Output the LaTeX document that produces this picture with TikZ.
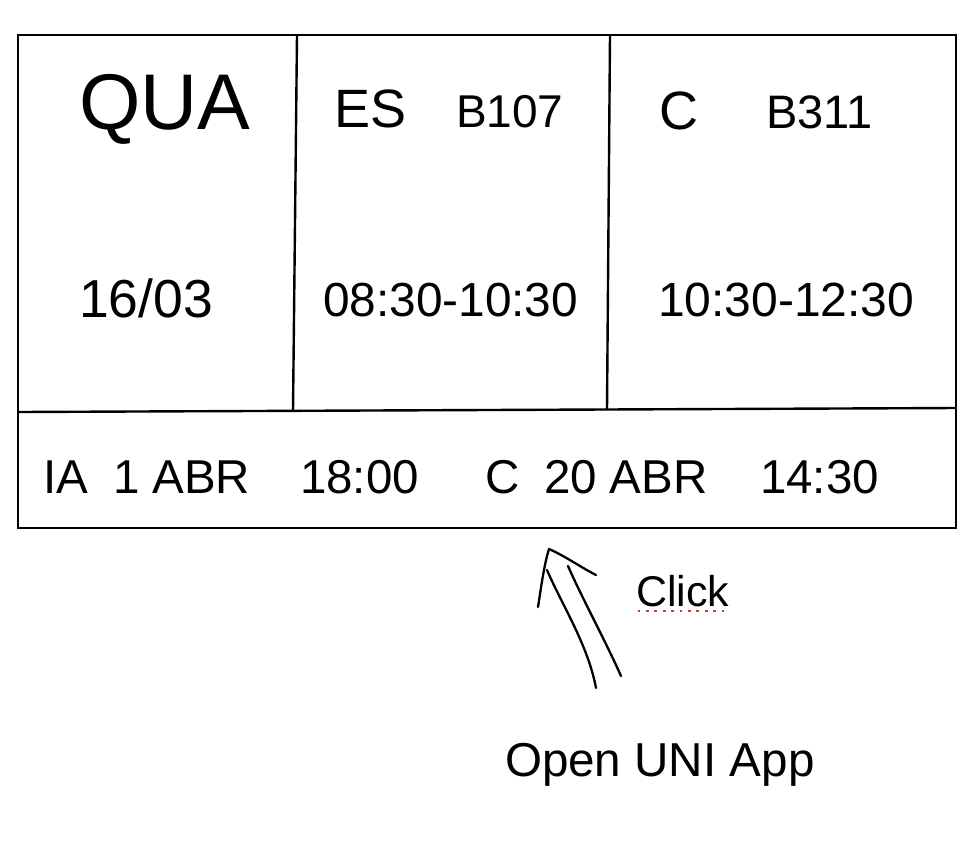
\documentclass[tikz,border=0pt]{standalone}
\usepackage{fontspec}
\setmainfont{Liberation Sans}
\newcommand\sz[1]{\fontsize{#1}{#1}\selectfont}
\definecolor{spellred}{RGB}{200,60,65}
\begin{document}
\begin{tikzpicture}[x=1pt,y=-1pt,
  txt/.style={inner sep=0pt, outer sep=0pt, anchor=base west},
  frame/.style={line width=2.8pt, line join=miter},
  rule/.style={line width=2.4pt},
  stroke/.style={line width=2.3pt, line cap=round, line join=round},
  squiggle/.style={draw=spellred, line width=2.8pt, dash pattern=on 2.8pt off 5.6pt}]
\useasboundingbox (0,0) rectangle (974,852);
\fill[white] (0,0) rectangle (974,852);

% frame and grid
\coordinate (tl) at (18,35);
\coordinate (tr) at (956,35);
\coordinate (br) at (956,528);
\coordinate (bl) at (18,528);
\coordinate (dl) at (18,412);
\coordinate (dr) at (956,408);
\coordinate (v1t) at (297,35);
\coordinate (v1b) at (293,411);
\coordinate (v2t) at (610,35);
\coordinate (v2b) at (607,409);
\draw[frame] (tl) -- (tr) -- (br) -- (bl) -- cycle;
\draw[rule] (dl) -- (dr);
\draw[rule] (v1t) -- (v1b);
\draw[rule] (v2t) -- (v2b);

% top cells
\node[txt, font=\sz{79}] (qua) at (79,129) {QUA};
\node[txt, font=\sz{54}] (es) at (334,127) {ES};
\node[txt, font=\sz{46}] (b107) at (456,127) {B107};
\node[txt, font=\sz{54}] (c1) at (659,129) {C};
\node[txt, font=\sz{47}] (b311) at (766,128) {B311};
\node[txt, font=\sz{53.5}] (date) at (79,317) {16/03};
\node[txt, font=\sz{47.8}] (t1) at (323,316) {08:30-10:30};
\node[txt, font=\sz{48}] (t2) at (658,316) {10:30-12:30};

% bottom row
\node[txt, font=\sz{47.5}] (ia) at (43,493) {IA};
\node[txt, font=\sz{47.5}] (ia1) at (113,493) {1 ABR};
\node[txt, font=\sz{47.5}] (iat) at (300,493) {18:00};
\node[txt, font=\sz{47.5}] (c2) at (485,493) {C};
\node[txt, font=\sz{47.5}] (c20) at (544,493) {20 ABR};
\node[txt, font=\sz{47.5}] (ct) at (760,493) {14:30};

% click annotation
\node[txt, font=\sz{43}] (click) at (636,606) {Click};
\draw[squiggle] ([xshift=1.5pt,yshift=-5pt]click.base west) -- ([yshift=-5pt]click.base east);

\node[txt, font=\sz{47.6}] (open) at (505,776) {Open UNI App};

% hand-drawn arrow
\coordinate (apex) at (549,549);
\coordinate (lhead) at (538,607);
\coordinate (rhead) at (596,575);
\coordinate (s1a) at (547,570);
\coordinate (s1b) at (596,688);
\coordinate (s2a) at (568,566);
\coordinate (s2b) at (621,676);
\draw[stroke] (lhead) .. controls (541,588) and (544,565) .. (apex)
  .. controls (565,556) and (582,568) .. (rhead);
\draw[stroke] (s1a) .. controls (562,605) and (588,645) .. (s1b);
\draw[stroke] (s2a) .. controls (582,598) and (605,640) .. (s2b);
\end{tikzpicture}
\end{document}
